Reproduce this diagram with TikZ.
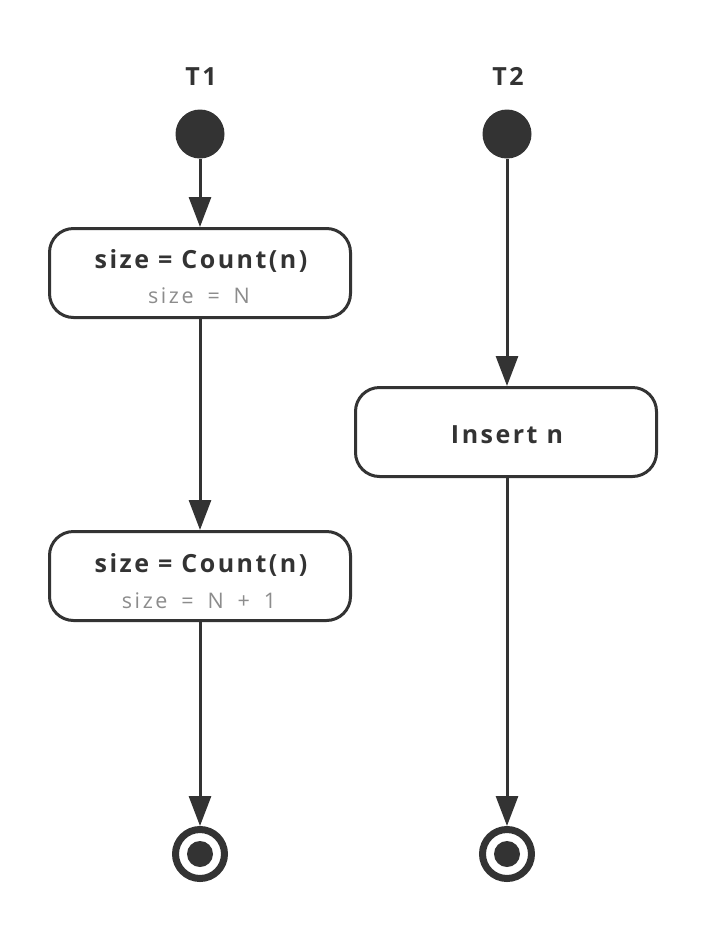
\documentclass[tikz,border=0pt]{standalone}
\usepackage{fontspec}
\setmainfont{Open Sans}
\newfontfamily\boldsp[LetterSpace=10]{Open Sans Bold}
\newfontfamily\normsp[LetterSpace=12,WordSpace=1.7]{Open Sans}
\usetikzlibrary{arrows.meta}
\definecolor{dk}{HTML}{333333}
\definecolor{gr}{HTML}{8C8C8C}
\begin{document}
\begin{tikzpicture}[x=1pt,y=-1pt,
  startnode/.style={circle,fill=dk,draw=none,minimum size=49pt,inner sep=0pt},
  endnode/.style={circle,draw=dk,line width=7pt,fill=white,minimum size=49pt,inner sep=0pt,
    path picture={\fill[dk] (path picture bounding box.center) circle (13pt);}},
  actbox/.style={draw=dk,line width=3pt,rounded corners=24pt,fill=white,minimum width=301pt,minimum height=89pt,inner sep=0pt},
  maintext/.style={anchor=base,inner sep=0pt,font=\fontsize{25}{28}\boldsp,text=dk},
  subtext/.style={anchor=base,inner sep=0pt,font=\fontsize{21.5}{26}\normsp,text=gr},
  flow/.style={draw=dk,line width=3pt,-{Triangle[length=30pt,width=22pt]}}
]
\useasboundingbox (0,0) rectangle (706,930);
\node[maintext] (t1) at (201,85) {T1};
\node[maintext] (t2) at (508,85) {T2};
\node[startnode] (s1) at (200,134) {};
\node[startnode] (s2) at (507,134) {};
\node[actbox] (b1) at (200,273) {};
\node[maintext] (b1a) at (201,268) {size = Count(n)};
\node[subtext] (b1b) at (199,303) {size = N};
\node[actbox] (b2) at (200,576) {};
\node[maintext] (b2a) at (201,572) {size = Count(n)};
\node[subtext] (b2b) at (199,608) {size = N + 1};
\node[actbox] (b3) at (506,432) {};
\node[maintext] (b3a) at (507,443) {Insert n};
\node[endnode] (e1) at (200,854) {};
\node[endnode] (e2) at (507,854) {};
\draw[flow] (s1) -- (b1);
\draw[flow] (b1) -- (b2);
\draw[flow] (b2) -- (e1);
\draw[flow] (s2) -- (b3.north -| s2);
\draw[flow] (b3.south -| s2) -- (e2);
\end{tikzpicture}
\end{document}
